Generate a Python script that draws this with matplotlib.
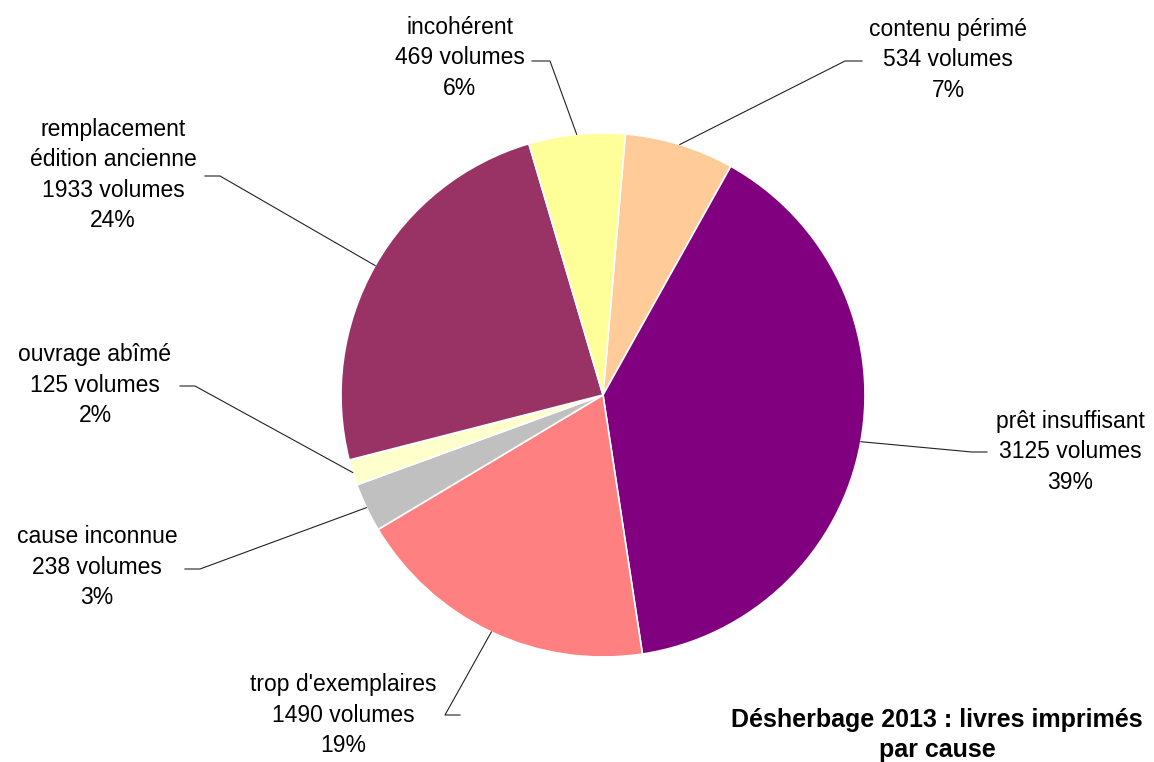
import numpy as np
import matplotlib
matplotlib.use("Agg")
import matplotlib.pyplot as plt

plt.rcParams['font.family'] = ['Liberation Sans', 'DejaVu Sans']

# data, in drawing order (clockwise from the top)
causes = ["contenu périmé", "prêt insuffisant", "trop d'exemplaires", "cause inconnue",
          "ouvrage abîmé", "remplacement\nédition ancienne", "incohérent"]
volumes = [534, 3125, 1490, 238, 125, 1933, 469]
colors = ["#FFCC99", "#800080", "#FF8080", "#C0C0C0", "#FFFFCC", "#993366", "#FFFF99"]

# label layout (pixel coords, y measured from top): text centre, line end near text, elbow
label_pos = [(948, 60), (1070, 452), (343, 715), (97, 567), (95, 385), (113, 175), (460, 58)]
line_start = [(862, 61), (987, 452), (460, 715), (185, 569), (180, 386), (205, 176), (532, 61)]
elbow = [(845, 61), (972, 452), (445, 715), (200, 569), (195, 386), (220, 176), (550, 61)]

W, H = 1154, 762
fig = plt.figure(figsize=(W / 100, H / 100), dpi=100)
ax = fig.add_axes([0, 0, 1, 1])

cx, cy, r = 603, H - 395, 262
wedges, _ = ax.pie(volumes, colors=colors, startangle=85.1, counterclock=False,
                   center=(cx, cy), radius=r, frame=True,
                   wedgeprops=dict(edgecolor='white', linewidth=1.2))
ax.set_xlim(0, W)
ax.set_ylim(0, H)
ax.set_aspect('equal')
ax.axis('off')

total = sum(volumes)
for i, w in enumerate(wedges):
    # leader line goes to the edge at the middle of the slice
    mid = np.deg2rad((w.theta1 + w.theta2) / 2)
    ex, ey = cx + r * np.cos(mid), cy + r * np.sin(mid)
    x0, y0 = line_start[i]
    x1, y1 = elbow[i]
    ax.plot([x0, x1, ex], [H - y0, H - y1, ey], color='#222222', lw=0.8)
    pct = round(100 * volumes[i] / total)
    txt = f"{causes[i]}\n{volumes[i]} volumes\n{pct}%"
    lx, ly = label_pos[i]
    ax.text(lx, H - ly, txt, ha='center', va='center', multialignment='center',
            fontsize=16.5, linespacing=1.42, color='black')

ax.text(937, H - 735, "Désherbage 2013 : livres imprimés\npar cause", ha='center', va='center',
        multialignment='center', fontsize=18, fontweight='bold', linespacing=1.3)

fig.savefig("out.png", dpi=100)
